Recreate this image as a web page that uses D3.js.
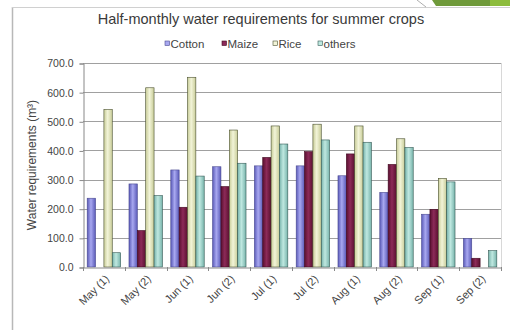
<!DOCTYPE html>
<html>
<head>
<meta charset="utf-8">
<script src="https://cdn.jsdelivr.net/npm/d3@7"></script>
<style>
  html, body { margin: 0; padding: 0; background: #fff; }
  svg { display: block; font-family: "Liberation Sans", Arial, sans-serif; }
</style>
</head>
<body>
<svg id="chart" width="510" height="330"></svg>
<script>
// Half-monthly water requirements (m³) per crop
const categories = ["May (1)", "May (2)", "Jun (1)", "Jun (2)", "Jul (1)", "Jul (2)",
                    "Aug (1)", "Aug (2)", "Sep (1)", "Sep (2)"];
const seriesNames = ["Cotton", "Maize", "Rice", "others"];
const cotton = [236, 285, 333, 344, 347, 347, 313, 256, 181, 98];
const maize  = [0, 125, 205, 276, 376, 396, 388, 352, 198, 30];
const rice   = [541, 615, 651, 470, 484, 490, 484, 440, 304, 0];
const others = [49, 245, 312, 356, 422, 436, 428, 410, 292, 56];
const yTicks = [0, 100, 200, 300, 400, 500, 600, 700];

const series = [cotton, maize, rice, others];
const fills = [
  { edge: "#5a5ab8", mid: "#a8a8f0", stroke: "#4a4a90" },
  { edge: "#5a1030", mid: "#8c2a58", stroke: "#40081f" },
  { edge: "#c8cc98", mid: "#f2f4d8", stroke: "#4a5030" },
  { edge: "#78b4ac", mid: "#bfe8e0", stroke: "#355a55" }
];

const svg = d3.select("#chart");

// slide frame and corner decoration
svg.append("line").attr("x1", 12.5).attr("x2", 12.5).attr("y1", 7).attr("y2", 330)
  .attr("stroke", "#b8b8b8").attr("stroke-width", 1.5);
svg.append("line").attr("x1", 12).attr("x2", 510).attr("y1", 7.5).attr("y2", 7.5)
  .attr("stroke", "#d0d0d0").attr("stroke-width", 1);
svg.append("polygon").attr("points", "432,0 490,0 490,6 436,6").attr("fill", "#6f9a3a");
svg.append("rect").attr("x", 490).attr("y", 0).attr("width", 20).attr("height", 6).attr("fill", "#8cbc3c");
svg.append("line").attr("x1", 417).attr("y1", 0).attr("x2", 426).attr("y2", 7)
  .attr("stroke", "#999").attr("stroke-width", 0.8);

const defs = svg.append("defs");
fills.forEach((f, i) => {
  const g = defs.append("linearGradient").attr("id", "grad" + i)
    .attr("x1", "0%").attr("x2", "100%").attr("y1", "0%").attr("y2", "0%");
  g.append("stop").attr("offset", "0%").attr("stop-color", f.edge);
  g.append("stop").attr("offset", "45%").attr("stop-color", f.mid);
  g.append("stop").attr("offset", "100%").attr("stop-color", f.edge);
});

const margin = { left: 83, right: 501, top: 63, bottom: 267 };

const x0 = d3.scaleBand().domain(categories).range([margin.left, margin.right]).paddingInner(0).paddingOuter(0);
const x1 = d3.scaleBand().domain(d3.range(4)).range([0, x0.bandwidth()]).paddingInner(0).paddingOuter(0.5);
const y = d3.scaleLinear().domain([0, 700]).range([margin.bottom, margin.top]);

// title
svg.append("text").attr("x", 261).attr("y", 24).attr("text-anchor", "middle")
  .attr("font-size", 14.5).attr("fill", "#3a3a3a").text("Half-monthly water requirements for summer crops");

// legend
const legendItems = [
  { name: seriesNames[0], x: 165 },
  { name: seriesNames[1], x: 222 },
  { name: seriesNames[2], x: 273 },
  { name: seriesNames[3], x: 318 }
];
legendItems.forEach((it, i) => {
  svg.append("rect").attr("x", it.x).attr("y", 41).attr("width", 4.5).attr("height", 4.5)
    .attr("fill", fills[i].mid).attr("stroke", fills[i].stroke).attr("stroke-width", 0.6);
  svg.append("text").attr("x", it.x + 5.5).attr("y", 47.5).attr("font-size", 11.5)
    .attr("fill", "#444").text(it.name);
});

// gridlines
svg.append("g").selectAll("line").data(yTicks.filter(d => d > 0)).join("line")
  .attr("x1", margin.left).attr("x2", margin.right)
  .attr("y1", d => Math.round(y(d)) + 0.5).attr("y2", d => Math.round(y(d)) + 0.5)
  .attr("stroke", "#a0a0a0").attr("stroke-width", 1);
svg.append("line").attr("x1", margin.right + 0.5).attr("x2", margin.right + 0.5)
  .attr("y1", margin.top).attr("y2", margin.bottom).attr("stroke", "#d8d8d8");

// bars
categories.forEach((c, ci) => {
  series.forEach((s, si) => {
    const v = s[ci];
    if (v <= 0) return;
    svg.append("rect")
      .attr("x", x0(c) + x1(si))
      .attr("y", y(v))
      .attr("width", x1.bandwidth())
      .attr("height", y(0) - y(v))
      .attr("fill", `url(#grad${si})`)
      .attr("stroke", fills[si].stroke).attr("stroke-width", 0.6);
  });
});

// y axis
const yAxis = d3.axisLeft(y).tickValues(yTicks).tickFormat(d3.format(".1f")).tickSize(4).tickPadding(6);
const gy = svg.append("g").attr("transform", `translate(${margin.left + 0.5},0.5)`).call(yAxis);
gy.select(".domain").attr("stroke", "#888");
gy.selectAll(".tick line").attr("stroke", "#888");
gy.selectAll(".tick text").attr("font-size", 10.5).attr("fill", "#444")
  .attr("font-family", "Liberation Sans, Arial, sans-serif");

// x axis
const xAxis = d3.axisBottom(x0).tickSize(0).tickPadding(0);
const gx = svg.append("g").attr("transform", `translate(0,${margin.bottom + 0.5})`).call(xAxis);
gx.select(".domain").attr("stroke", "#888");
gx.selectAll(".tick text")
  .attr("font-size", 11).attr("fill", "#444")
  .attr("font-family", "Liberation Sans, Arial, sans-serif")
  .attr("text-anchor", "end")
  .attr("dy", 0)
  .attr("transform", "translate(6,12) rotate(-45)");
// boundary tick marks between categories
svg.append("g").selectAll("line").data(categories.concat(["end"])).join("line")
  .attr("x1", (d, i) => Math.round(margin.left + i * x0.bandwidth()) + 0.5)
  .attr("x2", (d, i) => Math.round(margin.left + i * x0.bandwidth()) + 0.5)
  .attr("y1", margin.bottom).attr("y2", margin.bottom + 4)
  .attr("stroke", "#888");

// y axis title
svg.append("text")
  .attr("transform", "translate(36,165) rotate(-90)")
  .attr("text-anchor", "middle").attr("font-size", 12).attr("fill", "#444")
  .text("Water requirements (m³)");
</script>
</body>
</html>
